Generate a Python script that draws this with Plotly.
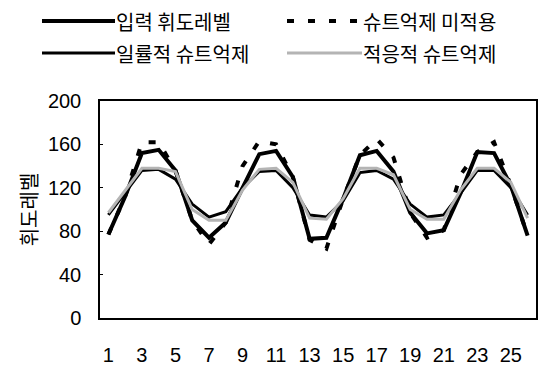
import plotly.graph_objects as go

frames = list(range(1, 27))
input_level = [77, 112, 152, 155, 136, 90, 74, 88, 120, 151, 154, 130, 73, 74, 110, 150, 154, 135, 97, 78, 81, 115, 153, 152, 122, 76]
no_suppress = [77, 112, 162, 162, 136, 90, 68, 88, 140, 163, 160, 130, 72, 64, 110, 150, 165, 148, 97, 74, 81, 132, 153, 162, 122, 76]
uniform_sup = [95, 115, 136, 137, 128, 105, 93, 98, 120, 135, 136, 120, 95, 93, 108, 134, 136, 128, 105, 93, 95, 115, 136, 136, 120, 95]
adaptive_sup = [97, 118, 138, 138, 135, 100, 90, 90, 118, 137, 138, 125, 92, 91, 110, 138, 138, 132, 100, 91, 91, 118, 138, 138, 125, 92]

names = ["입력 휘도레벨", "슈트억제 미적용", "일률적 슈트억제", "적응적 슈트억제"]
x_ticks = list(range(1, 26, 2))
y_ticks = [0, 40, 80, 120, 160, 200]
y_title = "휘도레벨"

styles = [
    dict(color="black", width=4, dash="solid"),
    dict(color="black", width=4, dash="7px,14px"),
    dict(color="black", width=3, dash="solid"),
    dict(color="#b4b4b4", width=3, dash="solid"),
]

fig = go.Figure()
for name, ys, st in zip(names, [input_level, no_suppress, uniform_sup, adaptive_sup], styles):
    fig.add_trace(go.Scatter(x=frames, y=ys, mode="lines", name=name, line=st, showlegend=False))

# manual legend (long line samples as in the original); page coords -> paper coords
W, H = 436.0, 217.0
def px(xp):
    return (xp - 100) / W
def py(yp):
    return (318 - yp) / H

legend_pos = [(42, 115, 21), (287, 362, 21), (42, 115, 53), (287, 362, 53)]
shapes = []
annotations = []
for (x0, x1, yy), name, st in zip(legend_pos, names, styles):
    shapes.append(dict(type="line", xref="paper", yref="paper", x0=px(x0), x1=px(x1), y0=py(yy), y1=py(yy),
                       line=dict(color=st["color"], width=st["width"], dash=st["dash"])))
    annotations.append(dict(xref="paper", yref="paper", x=px(x1), y=py(yy), text=name, showarrow=False,
                            xanchor="left", yanchor="middle", borderpad=0,
                            font=dict(family="Noto Sans CJK KR", size=20, color="black")))

# page body has an 8px margin, so the figure is sized/margined to compensate
fig.update_layout(
    width=539, height=359,
    margin=dict(l=92, r=11, t=93, b=49),
    paper_bgcolor="white", plot_bgcolor="white",
    showlegend=False,
    shapes=shapes, annotations=annotations,
    font=dict(family="Liberation Sans", size=20, color="black"),
)
fig.update_xaxes(range=[0.5, 26.5], tickvals=x_ticks, ticktext=[str(v) for v in x_ticks],
                 showgrid=False, zeroline=False, showline=True, linecolor="black", linewidth=1.5,
                 mirror=True, ticks="", ticklabelstandoff=18, automargin=False,
                 tickfont=dict(family="Liberation Sans", size=20, color="black"))
fig.update_yaxes(range=[0, 200], tickvals=y_ticks, showgrid=False, zeroline=False, showline=True,
                 linecolor="black", linewidth=1.5, mirror=True, ticks="inside", ticklen=3, tickcolor="black",
                 ticklabelstandoff=13, automargin=False,
                 tickfont=dict(family="Liberation Sans", size=20, color="black"),
                 title=dict(text=y_title, font=dict(family="Noto Sans CJK KR", size=20, color="black"), standoff=5))

fig.write_html("out.html")
